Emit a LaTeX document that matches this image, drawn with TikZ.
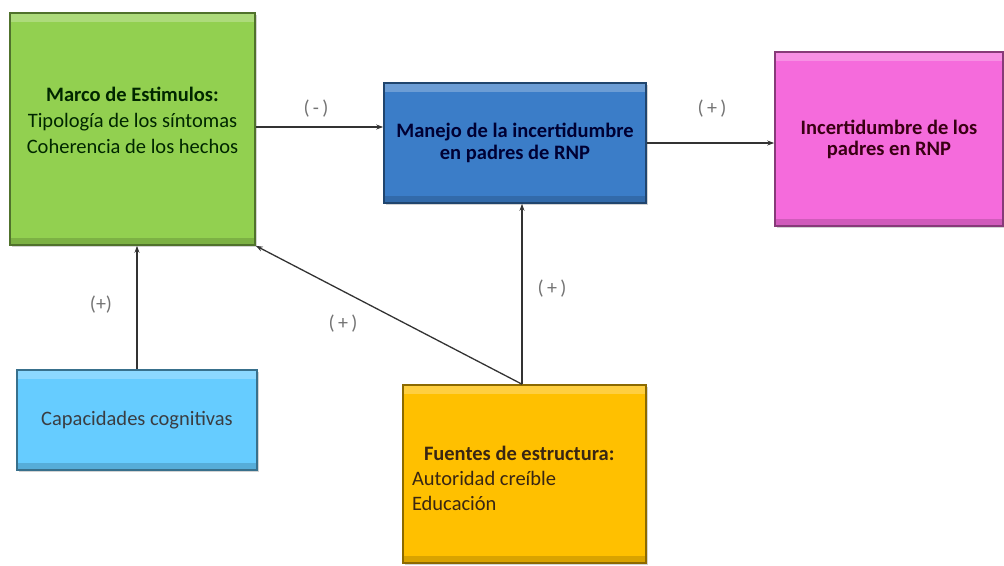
\documentclass[tikz,border=0pt]{standalone}
\usepackage{fontspec}
\setmainfont{Carlito}
\usetikzlibrary{arrows.meta,shadows,calc}
\definecolor{cgreen}{HTML}{92D050}
\definecolor{cblue}{HTML}{3B7DC8}
\definecolor{cpink}{HTML}{F56BDC}
\definecolor{ccyan}{HTML}{66CCFF}
\definecolor{cyellow}{HTML}{FFC000}
\tikzset{
  bevel/.style={rectangle, draw=#1!55!black, line width=1.6pt, fill=#1,
    drop shadow={shadow xshift=2pt, shadow yshift=-2pt, opacity=0.35},
    path picture={
      \fill[white,opacity=0.25] (path picture bounding box.north west) rectangle ([yshift=-9pt]path picture bounding box.north east);
      \fill[black,opacity=0.15] (path picture bounding box.south west) rectangle ([yshift=7pt]path picture bounding box.south east);
    },
    inner sep=0pt},
  arr/.style={-{Stealth[length=7pt,width=5pt]}, draw=black!80, line width=1.3pt},
  sign/.style={font=\fontsize{20}{22}\selectfont, text=black!55}
}
\begin{document}
\begin{tikzpicture}[x=1pt,y=-1pt]
\useasboundingbox (0,0) rectangle (1004,565);
\node[bevel=cgreen, minimum width=245pt, minimum height=232pt, align=center, text=green!15!black,
  font=\fontsize{20.5}{26}\selectfont] (g) at (132.5,129)
  {\textbf{Marco de Estimulos:}\\Tipología de los síntomas\\Coherencia de los hechos\\[-8pt]};
\node[bevel=cblue, minimum width=262pt, minimum height=120pt, align=center, text=blue!20!black,
  font=\fontsize{20.5}{22}\selectfont] (b) at (515,143)
  {\textbf{Manejo de la incertidumbre}\\\textbf{en padres de RNP}};
\node[bevel=cpink, minimum width=228pt, minimum height=174pt, align=center, text=purple!30!black,
  font=\fontsize{20.5}{21}\selectfont] (p) at (889,139)
  {\textbf{Incertidumbre de los}\\\textbf{padres en RNP}};
\node[bevel=ccyan, minimum width=240pt, minimum height=100pt, align=center, text=cyan!15!black,
  font=\fontsize{20.5}{24}\selectfont] (c) at (137,420)
  {Capacidades cognitivas};
\node[bevel=cyellow, minimum width=243pt, minimum height=178pt, inner xsep=9pt,
  text=brown!30!black, font=\fontsize{20.5}{25}\selectfont] (y) at (524.5,474)
  {\raisebox{-4pt}[\height][\depth]{\parbox{225pt}{\raggedright\hspace*{12pt}\textbf{Fuentes de estructura:}\\Autoridad creíble\\Educación}}};
\coordinate (bin) at ($(b.west)+(0,-16)$);
\coordinate (ytop) at ($(y.north)+(-2.5,0)$);
\draw[arr] (g.east |- bin) -- (bin);
\draw[arr] (b.east) -- (b.east -| p.west);
\draw[arr] (c.north) -- (c.north |- g.south);
\draw[arr] (ytop) -- (g.south east);
\draw[arr] (ytop) -- (ytop |- b.south);
\node[sign] (s1) at (316,109) {(\,-\,)};
\node[sign] (s2) at (712,109) {(\,+\,)};
\node[sign] (s3) at (101,305) {(+)};
\node[sign] (s4) at (343,324) {(\,+\,)};
\node[sign] (s5) at (552,289) {(\,+\,)};
\end{tikzpicture}
\end{document}
